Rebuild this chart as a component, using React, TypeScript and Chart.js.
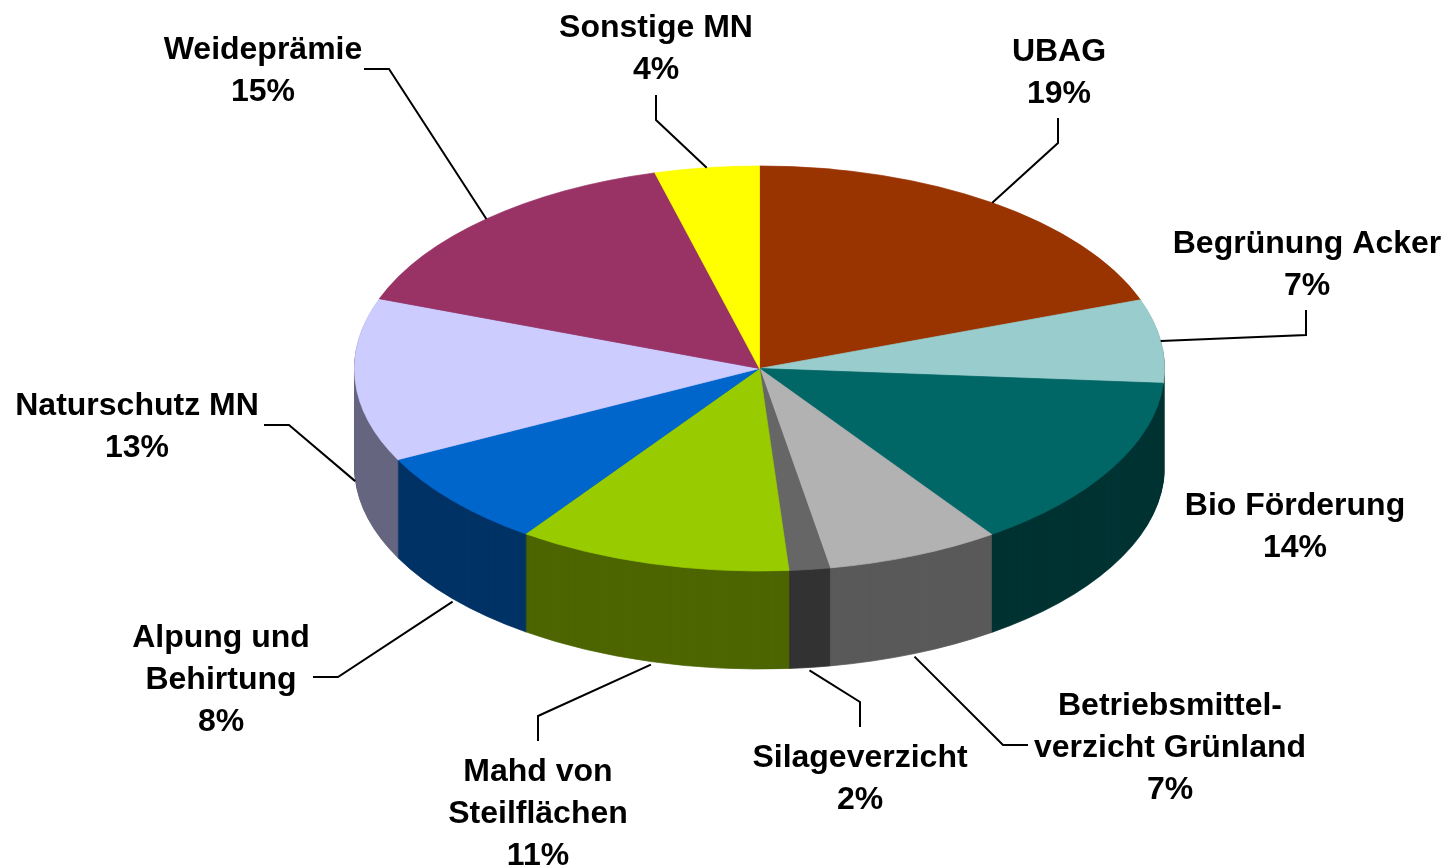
import React, { useEffect, useRef } from "react";
import { Chart, registerables } from "chart.js";

Chart.register(...registerables);

const categories = [
  "UBAG",
  "Begrünung Acker",
  "Bio Förderung",
  "Betriebsmittel-\nverzicht Grünland",
  "Silageverzicht",
  "Mahd von\nSteilflächen",
  "Alpung und\nBehirtung",
  "Naturschutz MN",
  "Weideprämie",
  "Sonstige MN",
];
const shares = [19.49, 6.67, 14.12, 6.94, 1.62, 10.96, 7.77, 13.03, 15.24, 4.16];
const topColors = ["#993300", "#99CCCC", "#006666", "#B2B2B2", "#666666", "#99CC00", "#0066CC", "#CCCCFF", "#993366", "#FFFF00"];
const wallColors = ["#4D1A00", "#4D6666", "#003333", "#5A5A5A", "#333333", "#4D6600", "#003366", "#666680", "#4D1A33", "#808000"];

// Label placement: text centre x, first baseline y, and the leader's elbow and end.
const labelLayout = [
  { x: 1059, y: 61, elbow: [1058, 143], end: [1058, 118] },
  { x: 1307, y: 253, elbow: [1306, 335], end: [1306, 310] },
  { x: 1295, y: 515, elbow: null, end: null },
  { x: 1170, y: 715, elbow: [1003, 745], end: [1028, 745] },
  { x: 860, y: 767, elbow: [860, 702], end: [860, 727] },
  { x: 538, y: 781, elbow: [538, 716], end: [538, 741] },
  { x: 221, y: 647, elbow: [338, 677], end: [313, 677] },
  { x: 137, y: 415, elbow: [289, 425], end: [264, 425] },
  { x: 263, y: 59, elbow: [389, 69], end: [364, 69] },
  { x: 656, y: 37, elbow: [656, 120], end: [656, 95] },
];

const WIDTH = 1452;
const HEIGHT = 868;
const CENTER_Y = 368.5;
const TILT = 0.5;
const DEPTH = 98;
const LINE_HEIGHT = 42;
const FONT = 'bold 32px "Liberation Sans", Arial, sans-serif';

function applyTilt(ctx: CanvasRenderingContext2D, arcY: number) {
  ctx.translate(0, CENTER_Y);
  ctx.scale(1, TILT);
  ctx.translate(0, -arcY);
}

const tiltedPie = {
  id: "tiltedPie",
  beforeDatasetsDraw(chart: any) {
    const ctx: CanvasRenderingContext2D = chart.ctx;
    const arcs = chart.getDatasetMeta(0).data;
    const arcY = arcs[0].y;
    for (let d = DEPTH; d >= 1; d--) {
      ctx.save();
      ctx.translate(0, d);
      applyTilt(ctx, arcY);
      arcs.forEach((arc: any, i: number) => {
        const ghost = Object.create(arc);
        ghost.options = { ...arc.options, backgroundColor: wallColors[i], borderColor: wallColors[i] };
        ghost.draw(ctx);
      });
      ctx.restore();
    }
    ctx.save();
    applyTilt(ctx, arcY);
  },
  afterDatasetsDraw(chart: any) {
    chart.ctx.restore();
  },
  afterDraw(chart: any) {
    const ctx: CanvasRenderingContext2D = chart.ctx;
    const arcs = chart.getDatasetMeta(0).data;
    const total = shares.reduce((a, b) => a + b, 0);
    ctx.save();
    ctx.strokeStyle = "#000000";
    ctx.lineWidth = 2;
    ctx.lineJoin = "miter";
    labelLayout.forEach((place, i) => {
      if (!place.elbow || !place.end) return;
      const arc = arcs[i];
      const mid = (arc.startAngle + arc.endAngle) / 2;
      const R = arc.outerRadius;
      const front = Math.sin(mid) > 0;
      const ax = arc.x + R * Math.cos(mid);
      const ay = CENTER_Y + R * TILT * Math.sin(mid) + (front ? DEPTH + 3 : 0);
      ctx.beginPath();
      ctx.moveTo(ax, ay);
      ctx.lineTo(place.elbow[0], place.elbow[1]);
      ctx.lineTo(place.end[0], place.end[1]);
      ctx.stroke();
    });
    ctx.fillStyle = "#000000";
    ctx.font = FONT;
    ctx.textAlign = "center";
    ctx.textBaseline = "alphabetic";
    labelLayout.forEach((place, i) => {
      const lines = [...categories[i].split("\n"), `${Math.round((shares[i] / total) * 100)}%`];
      lines.forEach((line, n) => ctx.fillText(line, place.x, place.y + n * LINE_HEIGHT));
    });
    ctx.restore();
  },
};

export default function App() {
  const ref = useRef<HTMLCanvasElement | null>(null);
  useEffect(() => {
    const chart = new Chart(ref.current as HTMLCanvasElement, {
      type: "pie",
      data: {
        labels: categories,
        datasets: [
          {
            data: shares,
            backgroundColor: topColors,
            borderColor: topColors,
            borderWidth: 1,
            clip: false,
          } as any,
        ],
      },
      options: {
        responsive: false,
        animation: false,
        layout: { padding: { left: 354, right: 287, top: 0, bottom: 0 } },
        plugins: { legend: { display: false }, tooltip: { enabled: false } },
      },
      plugins: [tiltedPie],
    } as any);
    return () => chart.destroy();
  }, []);
  return (
    <canvas
      ref={ref}
      width={WIDTH}
      height={HEIGHT}
      style={{ position: "absolute", left: 0, top: 0, display: "block", width: WIDTH, height: HEIGHT }}
    />
  );
}
